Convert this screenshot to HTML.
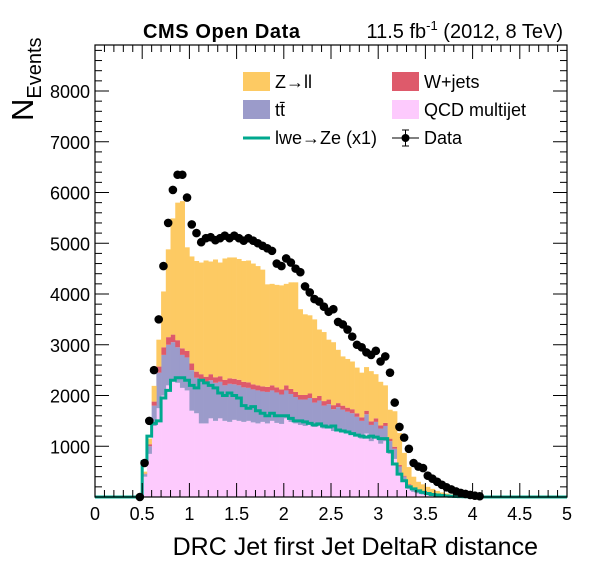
<!DOCTYPE html>
<html><head><meta charset="utf-8"><style>
html,body{margin:0;padding:0;background:#fff;}
svg{display:block;font-family:"Liberation Sans",Arial,sans-serif;}
</style></head><body>
<svg id="chart" width="596" height="572" viewBox="0 0 596 572" xmlns="http://www.w3.org/2000/svg">
<g id="stack"></g>
<g id="lines"></g>
<g id="points"></g>
<g id="axes"></g>
<text x="143" y="38" font-size="20" font-weight="bold" textLength="157">CMS Open Data</text>
<text x="563" y="38" font-size="20" text-anchor="end">11.5 fb<tspan dy="-8" font-size="13">-1</tspan><tspan dy="8"> (2012, 8 TeV)</tspan></text>
<text transform="translate(33,121) rotate(-90)" font-size="31">N<tspan font-size="20" dy="8">Events</tspan></text>
<text x="538" y="555" font-size="25" text-anchor="end">DRC Jet first Jet DeltaR distance</text>
<g font-size="18">
 <g><rect x="243" y="72" width="27" height="19" fill="#fdca63"/><text x="275" y="88">Z→ll</text></g>
 <g><rect x="392" y="72" width="27" height="19" fill="#de5a6b"/><text x="424" y="88">W+jets</text></g>
 <g><rect x="243" y="100" width="27" height="19" fill="#9b9bca"/><text x="275" y="116">tt̄</text></g>
 <g><rect x="392" y="100" width="27" height="19" fill="#fdcafd"/><text x="424" y="116">QCD multijet</text></g>
 <g><line x1="243" y1="138" x2="270" y2="138" stroke="#00a88e" stroke-width="3"/><text x="275" y="144">lwe→Ze (x1)</text></g>
 <g><line x1="392" y1="138" x2="419" y2="138" stroke="#000" stroke-width="1"/><line x1="405.5" y1="130" x2="405.5" y2="146" stroke="#000"/><line x1="402" y1="130" x2="409" y2="130" stroke="#000"/><line x1="402" y1="146" x2="409" y2="146" stroke="#000"/><circle cx="405.5" cy="138" r="4" fill="#000"/><text x="424" y="144">Data</text></g>
</g>
</svg>
<script>
const binLow=[0.45,0.5,0.55,0.6,0.65,0.7,0.75,0.8,0.85,0.9,0.95,1.0,1.05,1.1,1.15,1.2,1.25,1.3,1.35,1.4,1.45,1.5,1.55,1.6,1.65,1.7,1.75,1.8,1.85,1.9,1.95,2.0,2.05,2.1,2.15,2.2,2.25,2.3,2.35,2.4,2.45,2.5,2.55,2.6,2.65,2.7,2.75,2.8,2.85,2.9,2.95,3.0,3.05,3.1,3.15,3.2,3.25,3.3,3.35,3.4,3.45,3.5,3.55,3.6,3.65,3.7,3.75,3.8,3.85,3.9,3.95,4.0,4.05];
const binWidth=0.05;
const qcd=[0,400,850,1400,1750,2000,2200,2300,2250,2150,2100,1700,1650,1450,1450,1550,1500,1550,1500,1480,1520,1500,1480,1500,1470,1450,1480,1450,1500,1460,1440,1550,1480,1450,1420,1400,1450,1380,1400,1350,1380,1300,1350,1300,1280,1250,1200,1150,1250,1100,1150,1050,1100,850,750,450,300,160,100,70,50,35,25,20,15,10,8,5,4,3,2,1,1];
const ttbar=[0,50,150,400,700,800,800,750,700,650,650,800,700,850,800,750,750,720,700,750,700,700,680,650,650,650,600,620,600,600,580,550,550,520,500,520,500,480,500,450,450,430,420,420,400,400,380,350,380,320,330,300,300,250,200,150,100,80,60,40,30,20,15,10,8,6,5,4,3,2,1,1,0];
const wjets=[0,10,40,80,120,150,150,150,140,130,130,130,120,120,120,120,110,110,110,110,110,110,110,110,100,100,100,100,100,100,100,100,100,100,90,90,90,90,90,90,90,80,80,80,80,80,70,70,70,70,70,60,60,50,40,30,20,15,10,8,6,5,4,3,2,2,1,1,1,0,0,0,0];
const zll=[0,40,110,310,530,1100,1730,2290,2710,2900,2040,2110,2180,2200,2290,2220,2320,2240,2390,2380,2390,2380,2380,2400,2380,2350,2300,2020,2000,2020,2050,2000,2100,2160,1690,1590,1540,1550,1310,1360,1180,1240,1050,970,960,940,900,880,860,990,870,860,740,570,700,630,450,335,230,182,164,140,116,87,65,52,36,25,17,10,7,3,2];
const lwe=[0,700,1200,1450,1500,1950,2100,2300,2350,2350,2300,2200,2150,2300,2250,2200,2150,2050,2000,2050,2000,1950,1800,1750,1780,1700,1650,1600,1650,1600,1600,1600,1550,1500,1500,1480,1450,1420,1440,1400,1380,1400,1320,1300,1280,1250,1220,1200,1180,1200,1180,1150,1150,900,650,450,320,200,160,120,90,70,50,40,30,20,15,10,8,5,3,2,1];
const dataVals=[0,670,1500,2500,3500,4550,5400,6050,6350,6350,5900,5370,5200,5020,5100,5120,5060,5100,5150,5100,5150,5100,5050,5100,5050,5000,4950,4900,4850,4600,4550,4700,4620,4500,4430,4150,4030,3900,3850,3750,3650,3700,3450,3400,3300,3160,3000,2950,2850,2800,2880,2670,2770,2450,1860,1380,1170,950,670,600,570,420,360,300,240,190,150,110,80,60,40,25,15];
const xTickLabels=["0","0.5","1","1.5","2","2.5","3","3.5","4","4.5","5"];
const yTickLabels=["1000","2000","3000","4000","5000","6000","7000","8000"];

const NS="http://www.w3.org/2000/svg";
const X0=95,X1=567,Y0=497,Y1=45;
const xMin=0,xMax=5,yMin=0,yPerUnit=50.75/1000;
function sx(v){return X0+(v-xMin)*(X1-X0)/(xMax-xMin);}
function sy(v){return Y0-(v-yMin)*yPerUnit;}
function mk(tag,attrs,parent){const e=document.createElementNS(NS,tag);for(const k in attrs)e.setAttribute(k,attrs[k]);parent.appendChild(e);return e;}
const stack=document.getElementById('stack');
const layers=[[qcd,'#fdcafd','qcd'],[ttbar,'#9b9bca','ttbar'],[wjets,'#de5a6b','wjets'],[zll,'#fdca63','zll']];
const base=binLow.map(()=>0);
layers.forEach(([arr,col,nm])=>{
  for(let i=0;i<binLow.length;i++){
    const lo=base[i],hi=base[i]+arr[i];
    if(arr[i]>0){
      const r=mk('rect',{x:sx(binLow[i]),y:sy(hi),width:sx(binLow[i]+binWidth)-sx(binLow[i])+0.3,height:sy(lo)-sy(hi),fill:col},stack);
      
      
    }
    base[i]=hi;
  }
});
let d='M'+sx(0)+','+sy(0)+' L'+sx(binLow[0])+','+sy(0);
for(let i=0;i<binLow.length;i++){d+=' L'+sx(binLow[i])+','+sy(lwe[i])+' L'+sx(binLow[i]+binWidth)+','+sy(lwe[i]);}
d+=' L'+sx(binLow[binLow.length-1]+binWidth)+','+sy(0)+' L'+sx(5)+','+sy(0);
const ln=mk('path',{d:d,fill:'none',stroke:'#00a88e','stroke-width':3},document.getElementById('lines'));


const pts=document.getElementById('points');
for(let i=0;i<binLow.length;i++){
  const c=mk('circle',{cx:sx(binLow[i]+binWidth/2),cy:sy(dataVals[i]),r:4.3,fill:'#000'},pts);
  
  
}
const ax=document.getElementById('axes');
mk('rect',{x:X0,y:Y1,width:X1-X0,height:Y0-Y1,fill:'none',stroke:'#000','stroke-width':1.2},ax);
for(let k=0;k<=50;k++){
  const v=k*0.1,x=sx(v),L=(k%5===0)?14:7;
  mk('line',{x1:x,y1:Y0,x2:x,y2:Y0-L,stroke:'#000'},ax);
  mk('line',{x1:x,y1:Y1,x2:x,y2:Y1+L,stroke:'#000'},ax);
}
xTickLabels.forEach((t,i)=>{
  const tx=mk('text',{x:sx(i*0.5),y:520,'font-size':18,'text-anchor':'middle'},ax);
  tx.textContent=t;
  
  
});
for(let v=200;v<=8800;v+=200){
  const y=sy(v),L=(v%1000===0)?14:7;
  mk('line',{x1:X0,y1:y,x2:X0+L,y2:y,stroke:'#000'},ax);
  mk('line',{x1:X1,y1:y,x2:X1-L,y2:y,stroke:'#000'},ax);
}
yTickLabels.forEach((t,i)=>{
  const ty=mk('text',{x:90,y:sy((i+1)*1000)+7,'font-size':18,'text-anchor':'end'},ax);
  ty.textContent=t;
  
  
});
</script>
</body></html>
